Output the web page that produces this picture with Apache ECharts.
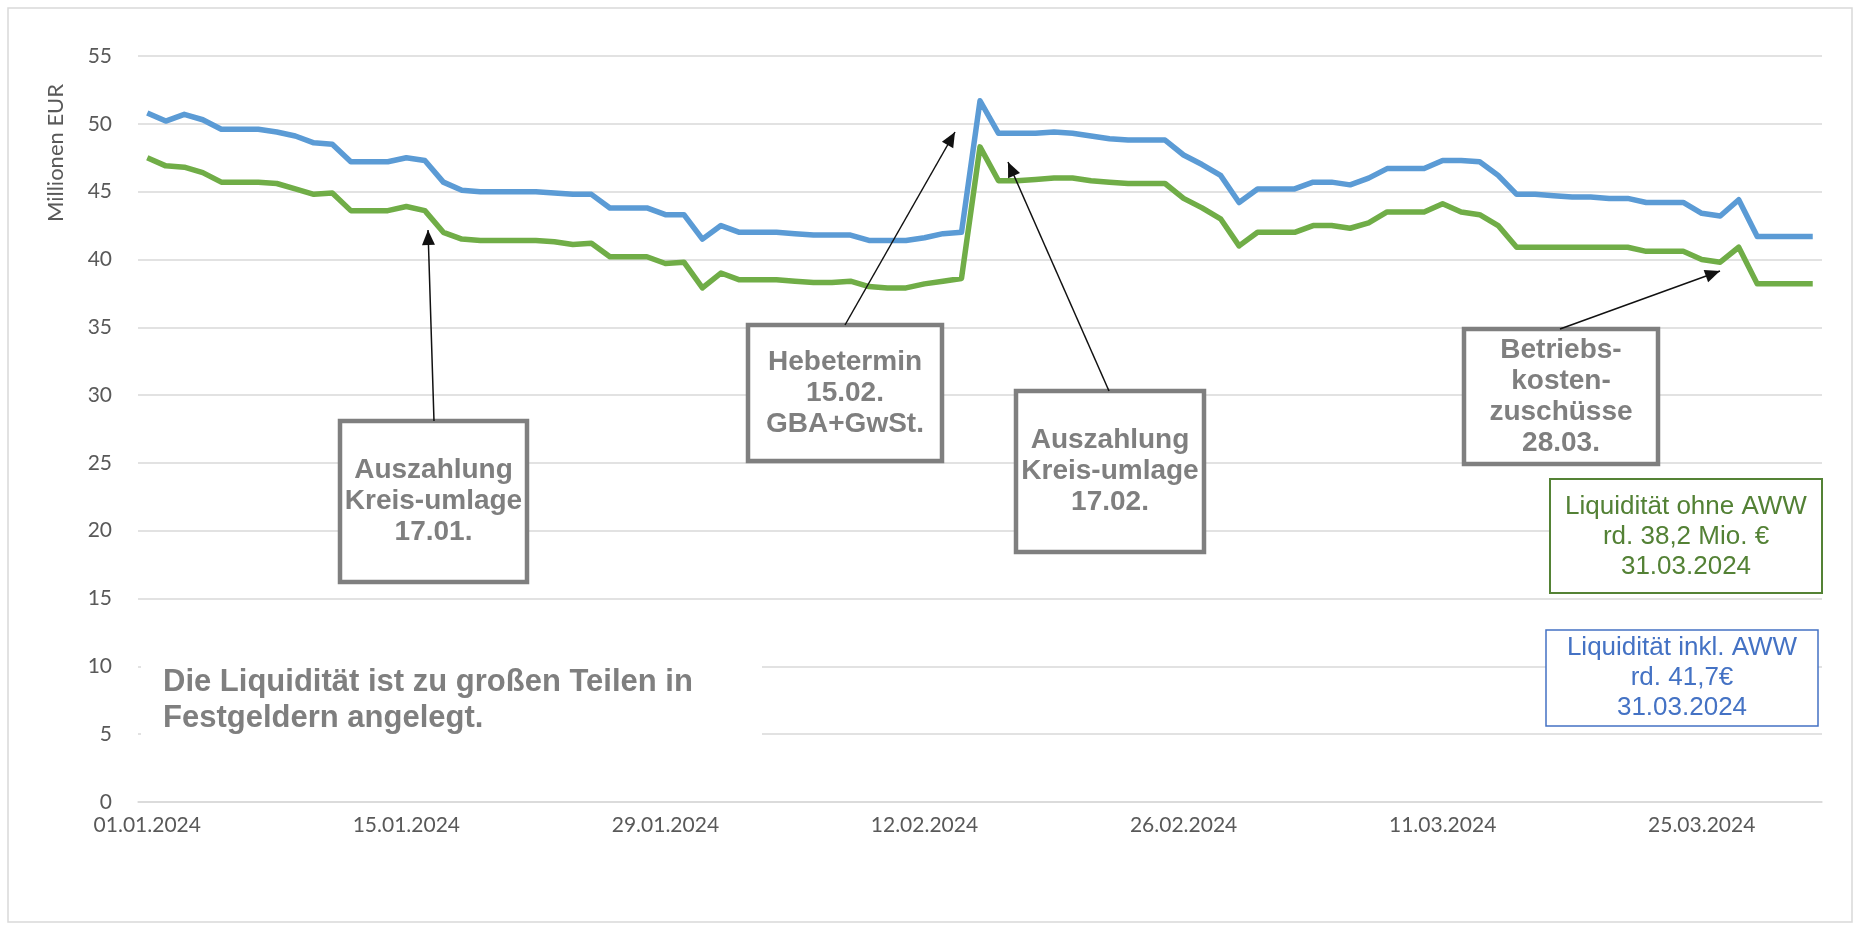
<!DOCTYPE html>
<html>
<head>
<meta charset="utf-8">
<script src="https://cdn.jsdelivr.net/npm/echarts@6/dist/echarts.min.js"></script>
<style>
    html, body { margin: 0; padding: 0; background: #fff; }
    #chart { width: 1865px; height: 928px; }
</style>
</head>
<body>
<div id="chart"></div>
<script>
// Tageswerte 01.01.2024 - 31.03.2024 (Mio. EUR)
const liqInklAww = [
    50.8, 50.2, 50.7, 50.3, 49.6, 49.6, 49.6, 49.4, 49.1, 48.6,
    48.5, 47.2, 47.2, 47.2, 47.5, 47.3, 45.7, 45.1, 45.0, 45.0,
    45.0, 45.0, 44.9, 44.8, 44.8, 43.8, 43.8, 43.8, 43.3, 43.3,
    41.5, 42.5, 42.0, 42.0, 42.0, 41.9, 41.8, 41.8, 41.8, 41.4,
    41.4, 41.4, 41.6, 41.9, 42.0, 51.7, 49.3, 49.3, 49.3, 49.4,
    49.3, 49.1, 48.9, 48.8, 48.8, 48.8, 47.7, 47.0, 46.2, 44.2,
    45.2, 45.2, 45.2, 45.7, 45.7, 45.5, 46.0, 46.7, 46.7, 46.7,
    47.3, 47.3, 47.2, 46.2, 44.8, 44.8, 44.7, 44.6, 44.6, 44.5,
    44.5, 44.2, 44.2, 44.2, 43.4, 43.2, 44.4, 41.7, 41.7, 41.7,
    41.7
];
const liqOhneAww = [
    47.5, 46.9, 46.8, 46.4, 45.7, 45.7, 45.7, 45.6, 45.2, 44.8,
    44.9, 43.6, 43.6, 43.6, 43.9, 43.6, 42.0, 41.5, 41.4, 41.4,
    41.4, 41.4, 41.3, 41.1, 41.2, 40.2, 40.2, 40.2, 39.7, 39.8,
    37.9, 39.0, 38.5, 38.5, 38.5, 38.4, 38.3, 38.3, 38.4, 38.0,
    37.9, 37.9, 38.2, 38.4, 38.6, 48.3, 45.8, 45.8, 45.9, 46.0,
    46.0, 45.8, 45.7, 45.6, 45.6, 45.6, 44.5, 43.8, 43.0, 41.0,
    42.0, 42.0, 42.0, 42.5, 42.5, 42.3, 42.7, 43.5, 43.5, 43.5,
    44.1, 43.5, 43.3, 42.5, 40.9, 40.9, 40.9, 40.9, 40.9, 40.9,
    40.9, 40.6, 40.6, 40.6, 40.0, 39.8, 40.9, 38.2, 38.2, 38.2,
    38.2
];

// Kategorien: jeder Tag als dd.mm.yyyy
const dates = [];
for (let d = new Date(2024, 0, 1); d <= new Date(2024, 2, 31); d.setDate(d.getDate() + 1)) {
    const dd = String(d.getDate()).padStart(2, "0");
    const mm = String(d.getMonth() + 1).padStart(2, "0");
    dates.push(dd + "." + mm + "." + d.getFullYear());
}

const grayBoxes = [
    { x: 340, y: 421, w: 187, h: 161, text: "Auszahlung\nKreis-umlage\n17.01." },
    { x: 748, y: 325, w: 194, h: 136, text: "Hebetermin\n15.02.\nGBA+GwSt." },
    { x: 1016, y: 391, w: 188, h: 161, text: "Auszahlung\nKreis-umlage\n17.02." },
    { x: 1464, y: 329, w: 194, h: 135, text: "Betriebs-\nkosten-\nzuschüsse\n28.03." }
];

const arrows = [
    [434, 421, 428, 230],
    [845, 325, 955, 132],
    [1109, 391, 1008, 162],
    [1560, 329, 1720, 271]
];

function arrowHead(x1, y1, x2, y2) {
    const len = 15, half = 6.5;
    const a = Math.atan2(y2 - y1, x2 - x1);
    const bx = x2 - len * Math.cos(a), by = y2 - len * Math.sin(a);
    return [
        [x2, y2],
        [bx + half * Math.sin(a), by - half * Math.cos(a)],
        [bx - half * Math.sin(a), by + half * Math.cos(a)]
    ];
}

const graphics = [
    // Rahmen
    {
        type: "rect", z: 1, silent: true,
        shape: { x: 8, y: 8, width: 1844, height: 914 },
        style: { fill: "none", stroke: "#d9d9d9", lineWidth: 1.5 }
    },
    // Achsentitel
    {
        type: "text", z: 10, x: 56, y: 153, rotation: Math.PI / 2,
        style: {
            text: "Millionen EUR", x: 0, y: 0, align: "center", verticalAlign: "middle",
            fill: "#595959", fontSize: 22, fontFamily: "Lato"
        }
    },
    // Hinweistext
    {
        type: "rect", z: 10, silent: true,
        shape: { x: 141, y: 645, width: 621, height: 100 },
        style: { fill: "#fff" }
    },
    {
        type: "text", z: 11, x: 163, y: 664,
        style: {
            text: "Die Liquidität ist zu großen Teilen in\nFestgeldern angelegt.",
            align: "left", verticalAlign: "top", lineHeight: 36,
            fill: "#7f7f7f", fontSize: 31, fontWeight: "bold", fontFamily: "Liberation Sans"
        }
    },
    // Endstände
    {
        type: "rect", z: 10,
        shape: { x: 1550, y: 479, width: 272, height: 114 },
        style: { fill: "#fff", stroke: "#548235", lineWidth: 2 }
    },
    {
        type: "text", z: 11, x: 1686, y: 537,
        style: {
            text: "Liquidität ohne AWW\nrd. 38,2 Mio. €\n31.03.2024",
            align: "center", verticalAlign: "middle", lineHeight: 30,
            fill: "#538135", fontSize: 26, fontFamily: "Liberation Sans"
        }
    },
    {
        type: "rect", z: 10,
        shape: { x: 1546, y: 630, width: 272, height: 96 },
        style: { fill: "#fff", stroke: "#4472c4", lineWidth: 1.5 }
    },
    {
        type: "text", z: 11, x: 1682, y: 678,
        style: {
            text: "Liquidität inkl. AWW\nrd. 41,7€\n31.03.2024",
            align: "center", verticalAlign: "middle", lineHeight: 30,
            fill: "#4472c4", fontSize: 26, fontFamily: "Liberation Sans"
        }
    }
];

grayBoxes.forEach(function (b) {
    graphics.push({
        type: "rect", z: 10,
        shape: { x: b.x, y: b.y, width: b.w, height: b.h },
        style: { fill: "#fff", stroke: "#7f7f7f", lineWidth: 4.5 }
    });
    graphics.push({
        type: "text", z: 11, x: b.x + b.w / 2, y: b.y + b.h / 2,
        style: {
            text: b.text, align: "center", verticalAlign: "middle", lineHeight: 31,
            fill: "#7f7f7f", fontSize: 28, fontWeight: "bold", fontFamily: "Liberation Sans"
        }
    });
});

arrows.forEach(function (a) {
    graphics.push({
        type: "line", z: 12, silent: true,
        shape: { x1: a[0], y1: a[1], x2: a[2], y2: a[3] },
        style: { stroke: "#111", lineWidth: 1.5 }
    });
    graphics.push({
        type: "polygon", z: 12, silent: true,
        shape: { points: arrowHead(a[0], a[1], a[2], a[3]) },
        style: { fill: "#111" }
    });
});

const mychart = echarts.init(document.getElementById("chart"));
const option = {
    animation: false,
    color: ["#5b9bd5", "#70ad47"],
    grid: {
        left: 138,
        right: 43,
        top: 56,
        bottom: 126
    },
    xAxis: {
        type: "category",
        data: dates,
        boundaryGap: true,
        axisLine: { lineStyle: { color: "#d9d9d9", width: 1.5 } },
        axisTick: { interval: 13, length: 7, lineStyle: { color: "#d9d9d9", width: 1.5 } },
        axisLabel: {
            interval: 13,
            margin: 13,
            color: "#595959",
            fontSize: 21,
            fontFamily: "Lato"
        }
    },
    yAxis: {
        type: "value",
        min: 0,
        max: 55,
        interval: 5,
        axisLine: { show: false },
        axisTick: { show: false },
        axisLabel: {
            margin: 26,
            color: "#595959",
            fontSize: 21,
            fontFamily: "Lato"
        },
        splitLine: { lineStyle: { color: "#d9d9d9", width: 1.5 } }
    },
    series: [
        {
            name: "Liquidität inkl. AWW",
            type: "line",
            data: liqInklAww,
            showSymbol: false,
            lineStyle: { width: 5.5, join: "round" }
        },
        {
            name: "Liquidität ohne AWW",
            type: "line",
            data: liqOhneAww,
            showSymbol: false,
            lineStyle: { width: 5.5, join: "round" }
        }
    ],
    graphic: graphics
};
mychart.setOption(option);
</script>
</body>
</html>
